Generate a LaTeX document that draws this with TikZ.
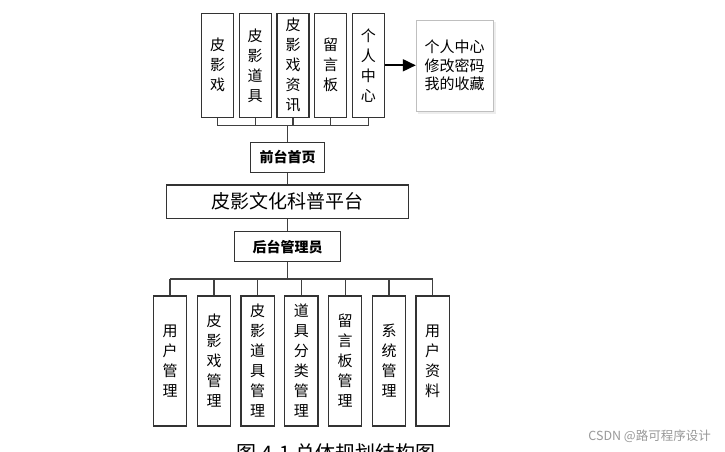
\documentclass[tikz,border=0pt]{standalone}
\usepackage{fontspec}
\setmainfont{Noto Sans CJK SC}
\usetikzlibrary{arrows.meta}
\tikzset{
  leafbox/.style={draw=black!80, line width=1.2pt, fill=white, inner sep=0pt,
    align=center, font=\fontsize{15}{20}\selectfont},
  topleaf/.style={leafbox, minimum width=32pt, minimum height=104pt},
  lowleaf/.style={leafbox, minimum width=33.3pt, minimum height=130pt},
  hubbox/.style={draw=black!80, line width=1.2pt, fill=white, inner sep=0pt,
    font=\fontsize{14}{16}\selectfont\bfseries},
  infobox/.style={draw=black!25, line width=0.8pt, fill=white, inner sep=0pt,
    minimum width=77pt, minimum height=91pt, align=left,
    font=\fontsize{15}{18.5}\selectfont},
  busline/.style={black!75, line width=1.3pt},
  pointer/.style={-{Triangle[length=13pt, width=12pt]}, black, line width=1.8pt},
}
\begin{document}
\begin{tikzpicture}[x=1pt, y=-1pt]
  \useasboundingbox[fill=white] (0,0) rectangle (725,451);
  % top row (front pages)
  \foreach \i/\cx/\txt in {1/217.5/{皮\\影\\戏}, 2/255.2/{皮\\影\\道\\具},
      3/293/{皮\\影\\戏\\资\\讯}, 4/330.5/{留\\言\\板}, 5/368.3/{个\\人\\中\\心}}
    { \node[topleaf] (t\i) at (\cx,65.3) {\txt}; }
  \fill[black!7] (418,22) rectangle (496,114);
  \node[infobox] (info) at (454.7,65.5) {个人中心\\修改密码\\我的收藏};
  \draw[pointer] (t5.east) -- (info.west |- t5.east);
  % centre column
  \node[hubbox, minimum width=74pt, minimum height=30pt] (front) at (287.5,157.3) {前台首页};
  \node[draw=black!80, line width=1.2pt, fill=white, minimum width=241.6pt,
    minimum height=33.3pt, font=\fontsize{19}{20}\selectfont] (platform) at (287.5,201.6)
    {皮影文化科普平台};
  \node[hubbox, minimum width=106.4pt, minimum height=30pt] (admin) at (287.5,246.7) {后台管理员};
  % bottom row (admin pages)
  \foreach \i/\cx/\txt in {1/170/{用\\户\\管\\理}, 2/214/{皮\\影\\戏\\管\\理},
      3/257.7/{皮\\影\\道\\具\\管\\理}, 4/301.3/{道\\具\\分\\类\\管\\理},
      5/345.2/{留\\言\\板\\管\\理}, 6/389/{系\\统\\管\\理}, 7/432.7/{用\\户\\资\\料}}
    { \node[lowleaf] (b\i) at (\cx,361) {\txt}; }
  % connectors
  \coordinate (topbus) at (287.3,125.7);
  \coordinate (lowbus) at (287.3,279);
  \foreach \i in {1,...,5} { \draw[busline] (t\i.south) -- (t\i.south |- topbus); }
  \draw[busline] (t1.south |- topbus) -- (t5.south |- topbus);
  \draw[busline] (topbus) -- (topbus |- front.north);
  \draw[busline] (front.south) -- (platform.north);
  \draw[busline] (platform.south) -- (admin.north);
  \draw[busline] (admin.south) -- (admin.south |- lowbus);
  \foreach \i in {1,...,7} { \draw[busline] (b\i.north) -- (b\i.north |- lowbus); }
  \draw[busline] (b1.north |- lowbus) -- (b7.north |- lowbus);
  % caption (cut by the page edge, as in the source) and mark
  \node[anchor=north, inner sep=0pt, font=\fontsize{20}{22}\selectfont] (caption)
    at (336,443) {图 4-1 总体规划结构图};
  \node[anchor=east, inner sep=0pt, text=black!40, font=\fontsize{12.5}{14}\selectfont]
    (mark) at (711,436) {CSDN @路可程序设计};
\end{tikzpicture}
\end{document}
